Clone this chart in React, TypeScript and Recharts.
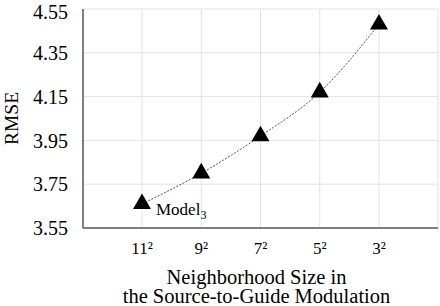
import React from "react";
import {
  LineChart,
  Line,
  XAxis,
  YAxis,
  CartesianGrid,
  Symbols,
} from "recharts";

// neighborhood sizes (x categories) and RMSE of each
const sizeLabels = ["11²", "9²", "7²", "5²", "3²"];
const rmseValues = [3.66, 3.8, 3.97, 4.17, 4.48];
const yTicks = [3.55, 3.75, 3.95, 4.15, 4.35, 4.55];
const xTitleLines = ["Neighborhood Size in", "the Source-to-Guide Modulation"];
const yTitle = "RMSE";
const pointNote = { index: 0, text: "Model", sub: "3" };

const data = sizeLabels.map((label, i) => ({ label, rmse: rmseValues[i] }));

const FONT = 'Liberation Serif, Tinos, "Times New Roman", Times, "Noto Serif", "DejaVu Serif", serif';
const FRAME = "#7f7f7f";
const GRID = "#e2e2e2";

function TriangleDot(props: any) {
  const { cx, cy, index } = props;
  return (
    <Symbols
      key={`dot-${index}`}
      cx={cx}
      cy={cy}
      type="triangle"
      size={140}
      fill="#000"
      stroke="none"
    />
  );
}

function NoteLabel(props: any) {
  const { x, y, index } = props;
  if (index !== pointNote.index) return null;
  return (
    <text x={x + 14} y={y + 11} fontFamily={FONT} fontSize={17} fill="#000">
      {pointNote.text}
      <tspan fontSize={12} dy={4}>
        {pointNote.sub}
      </tspan>
    </text>
  );
}

function XTitle(props: any) {
  const { viewBox } = props;
  const cx = viewBox.x + viewBox.width / 2 - 4;
  return (
    <text x={cx} y={viewBox.y + 56} textAnchor="middle" fontFamily={FONT} fontSize={20.5} fill="#000">
      <tspan x={cx}>{xTitleLines[0]}</tspan>
      <tspan x={cx} y={viewBox.y + 75}>
        {xTitleLines[1]}
      </tspan>
    </text>
  );
}

function YTitle(props: any) {
  const { viewBox } = props;
  const x = 11;
  const y = viewBox.y + viewBox.height / 2;
  return (
    <text
      x={x}
      y={y}
      transform={`rotate(-90, ${x}, ${y})`}
      textAnchor="middle"
      dominantBaseline="central"
      fontFamily={FONT}
      fontSize={19.5}
      fill="#000"
    >
      {yTitle}
    </text>
  );
}

export default function App() {
  return (
    <div style={{ position: "absolute", left: 0, top: 0, background: "#fff" }}>
      <LineChart
        width={440}
        height={306}
        data={data}
        margin={{ top: 9, right: 2, bottom: 0, left: 0 }}
      >
        <CartesianGrid stroke={GRID} strokeWidth={1} />
        <XAxis
          dataKey="label"
          padding={{ left: 59, right: 59 }}
          height={78}
          tickLine={false}
          tickSize={0}
          tickMargin={14}
          axisLine={{ stroke: FRAME, strokeWidth: 2 }}
          tick={{ fill: "#000", fontSize: 17, fontFamily: FONT }}
          label={<XTitle />}
        />
        <XAxis
          xAxisId="top"
          dataKey="label"
          orientation="top"
          height={0}
          tick={false}
          tickLine={false}
          axisLine={{ stroke: FRAME, strokeWidth: 2 }}
        />
        <YAxis
          domain={[3.55, 4.55]}
          ticks={yTicks}
          width={83}
          tickLine={false}
          tickSize={0}
          tickMargin={15}
          axisLine={{ stroke: FRAME, strokeWidth: 2 }}
          tick={{ fill: "#000", fontSize: 20, fontFamily: FONT }}
          tickFormatter={(v: number) => v.toFixed(2)}
          label={<YTitle />}
        />
        <YAxis
          yAxisId="right"
          orientation="right"
          domain={[3.55, 4.55]}
          width={0}
          tick={false}
          tickLine={false}
          axisLine={{ stroke: FRAME, strokeWidth: 2 }}
        />
        <Line
          type="monotone"
          dataKey="rmse"
          stroke="#555"
          strokeWidth={1}
          strokeDasharray="2 1.5"
          dot={<TriangleDot />}
          activeDot={false}
          label={<NoteLabel />}
          isAnimationActive={false}
        />
      </LineChart>
    </div>
  );
}
